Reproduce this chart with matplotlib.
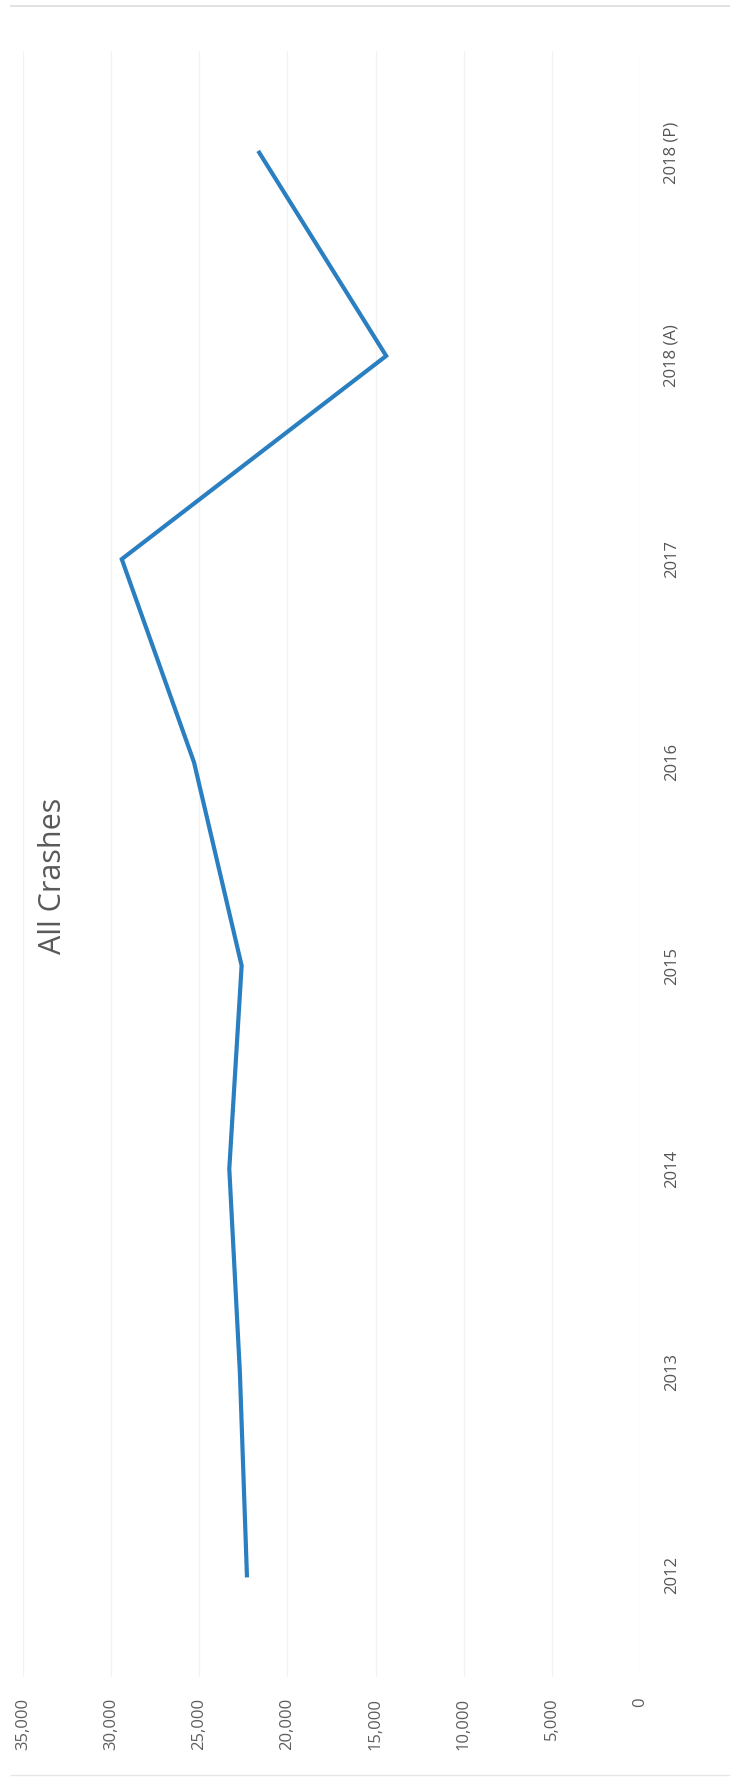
import matplotlib
matplotlib.use("Agg")
import matplotlib.pyplot as plt

# chart is a scanned Excel line chart, rotated 90 degrees counter-clockwise
years = ["2012", "2013", "2014", "2015", "2016", "2017", "2018 (A)", "2018 (P)"]
crashes = [22300, 22700, 23300, 22600, 25300, 29400, 14400, 21600]
value_ticks = [0, 5000, 10000, 15000, 20000, 25000, 30000, 35000]
tick_labels = ["0", "5,000", "10,000", "15,000", "20,000", "25,000", "30,000", "35,000"]

plt.rcParams["font.family"] = ["Open Sans", "DejaVu Sans"]

fig = plt.figure(figsize=(7.36, 17.84), dpi=100)
ax = fig.add_axes([0.0313, 0.060, 0.8383, 0.9114])

pos = list(range(len(years)))
ax.plot(crashes, pos, color="#2a7fc1", lw=3.0, solid_joinstyle="miter")

ax.set_xlim(35000, 0)
ax.set_ylim(-0.5, len(years) - 0.5)
ax.set_xticks(value_ticks)
ax.set_xticklabels(tick_labels, rotation=90, fontsize=12, color="#5e5e5e")
ax.set_yticks(pos)
ax.set_yticklabels(years, rotation=90, fontsize=12, color="#555555", va="center")
ax.yaxis.tick_right()
ax.tick_params(axis="x", length=0, pad=15)
ax.tick_params(axis="y", length=0, pad=17)
for t in ax.get_xticklabels():
    t.set_ha("center"); t.set_va("top")

ax.grid(axis="x", color="#f1f1f1", lw=0.9)
ax.grid(axis="y", visible=False)
for s in ax.spines.values():
    s.set_visible(False)

fig.text(0.072, 1 - 876 / 1784, "All Crashes", rotation=90, ha="center", va="center",
         fontsize=22, color="#595959")

# faint frame of the scanned chart box
fig.add_artist(plt.Line2D([0.015, 0.99], [0.9965, 0.9965], color="#dcdcdc", lw=1.2))
fig.add_artist(plt.Line2D([0.015, 0.99], [0.005, 0.005], color="#e6e6e6", lw=1.0))

fig.savefig("out.png", dpi=100)
